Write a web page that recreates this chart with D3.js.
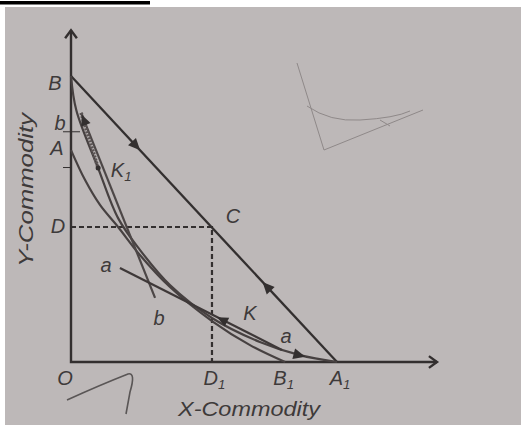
<!DOCTYPE html>
<html>
<head>
<meta charset="utf-8">
<script src="https://cdn.jsdelivr.net/npm/d3@7/dist/d3.min.js"></script>
<style>
  html, body { margin: 0; padding: 0; background: #fff; }
  svg { display: block; }
</style>
</head>
<body>
<svg id="chart" width="521" height="425"></svg>
<script>
// Axis extents (commodity units)
const xMax = 13.76;
const yMax = 11.6;

// Points on the axes
const yPoints = [
  { name: "B", y: 10.0 },
  { name: "b", y: 8.05 },
  { name: "A", y: 7.41 },
  { name: "D", y: 4.72 }
];
const xPoints = [
  { name: "D", sub: "1", x: 5.3 },
  { name: "B", sub: "1", x: 8.05 },
  { name: "A", sub: "1", x: 10.0 }
];

// Outer curve B → A1 (through K1 and K)
const outerX = [0, 0.2, 1.02, 1.77, 2.59, 3.72, 5.3, 7.1, 8.6, 10.0];
const outerY = [10.0, 8.8, 6.78, 5.03, 3.92, 2.69, 1.54, 0.70, 0.24, 0];

// Inner curve A → B1
const innerX = [0, 0.53, 1.09, 1.77, 2.59, 3.72, 5.3, 6.73, 8.05];
const innerY = [7.41, 6.36, 5.49, 4.72, 3.74, 2.62, 1.43, 0.59, 0];

// Straight line B → A1
const budgetX = [0, 10.0];
const budgetY = [10.0, 0];

// Tangent bb at K1 and aa at K
const bbX = [0.38, 3.16];
const bbY = [8.71, 2.24];
const aaX = [1.84, 7.93];
const aaY = [3.29, 0.42];

// Point C and the points K1, K
const C = { x: 5.3, y: 4.72 };
const K1 = { x: 1.02, y: 6.78 };
const K = { x: 5.3, y: 1.54 };

const svg = d3.select("#chart");
const W = 521, H = 425;

// Paper
svg.append("rect").attr("x", 5).attr("y", 7).attr("width", W - 5).attr("height", H - 7)
  .attr("fill", "#bdb8b8");
svg.append("rect").attr("x", 0).attr("y", 1).attr("width", 150).attr("height", 3.5)
  .attr("fill", "#000");

const x = d3.scaleLinear().domain([0, 10]).range([71, 337]);
const y = d3.scaleLinear().domain([0, 10]).range([362, 76]);

const ink = "#332f2f";
const textInk = "#3e3a3a";
const g = svg.append("g");

const line = d3.line().x(d => x(d[0])).y(d => y(d[1]));
const smooth = d3.line().x(d => x(d[0])).y(d => y(d[1])).curve(d3.curveCatmullRom.alpha(0.5));
const zip = (xs, ys) => xs.map((v, i) => [v, ys[i]]);

// Axes
g.append("path").attr("d", line([[0, yMax], [0, 0], [xMax, 0]]))
  .attr("fill", "none").attr("stroke", ink).attr("stroke-width", 2.4);
// open arrowheads
function chevron(px, py, angle) {
  const s = 10;
  const a1 = angle + Math.PI * 0.8, a2 = angle - Math.PI * 0.8;
  g.append("path")
    .attr("d", `M${px + s * Math.cos(a1)},${py + s * Math.sin(a1)} L${px},${py} L${px + s * Math.cos(a2)},${py + s * Math.sin(a2)}`)
    .attr("fill", "none").attr("stroke", ink).attr("stroke-width", 2.4);
}
chevron(x(0), y(yMax), -Math.PI / 2);
chevron(x(xMax), y(0), 0);

// Small marks on the Y axis
g.append("line").attr("x1", x(0) - 8).attr("x2", x(0) + 9)
  .attr("y1", y(8.05)).attr("y2", y(8.05)).attr("stroke", ink).attr("stroke-width", 1);
g.append("line").attr("x1", x(0) - 8).attr("x2", x(0))
  .attr("y1", y(6.8)).attr("y2", y(6.8)).attr("stroke", ink).attr("stroke-width", 1);

// Dashed guides D–C–D1
g.append("path").attr("d", line([[0, C.y], [C.x, C.y], [C.x, 0]]))
  .attr("fill", "none").attr("stroke", ink).attr("stroke-width", 2.2)
  .attr("stroke-dasharray", "5,3");

// Straight line B–A1
g.append("path").attr("d", line(zip(budgetX, budgetY)))
  .attr("fill", "none").attr("stroke", ink).attr("stroke-width", 2.3);

// Curves
g.append("path").attr("d", smooth(zip(innerX, innerY)))
  .attr("fill", "none").attr("stroke", "#474141").attr("stroke-width", 2.2);
g.append("path").attr("d", smooth(zip(outerX, outerY)))
  .attr("fill", "none").attr("stroke", "#474141").attr("stroke-width", 2.2);

// Tangent lines
g.append("path").attr("d", line(zip(bbX, bbY)))
  .attr("fill", "none").attr("stroke", "#4d4747").attr("stroke-width", 2.2);
g.append("path").attr("d", line([[bbX[0], bbY[0]], [K1.x, K1.y]]))
  .attr("fill", "none").attr("stroke", "#5a5353").attr("stroke-width", 3.6)
  .attr("stroke-dasharray", "2,1.2");
g.append("path").attr("d", line(zip(aaX, aaY)))
  .attr("fill", "none").attr("stroke", "#3e3838").attr("stroke-width", 2.2);

// Filled arrowheads along lines
function arrowAt(xa, ya, xb, yb, t, size) {
  const px = x(xa + (xb - xa) * t), py = y(ya + (yb - ya) * t);
  const ang = Math.atan2(y(yb) - y(ya), x(xb) - x(xa));
  const s = size || 12, w = s * 0.45;
  const bx = px - s * Math.cos(ang), by = py - s * Math.sin(ang);
  const nx = -Math.sin(ang) * w, ny = Math.cos(ang) * w;
  g.append("path")
    .attr("d", `M${px},${py} L${bx + nx},${by + ny} L${bx - nx},${by - ny} Z`)
    .attr("fill", ink);
}
arrowAt(budgetX[0], budgetY[0], budgetX[1], budgetY[1], 0.26);
arrowAt(budgetX[1], budgetY[1], budgetX[0], budgetY[0], 0.28);
arrowAt(bbX[1], bbY[1], bbX[0], bbY[0], 0.99, 11);
arrowAt(aaX[1], aaY[1], aaX[0], aaY[0], 0.4, 11);
arrowAt(8.0, 0.38, 8.9, 0.16, 0.9, 12);

// Point K1
g.append("circle").attr("cx", x(K1.x)).attr("cy", y(K1.y)).attr("r", 2.5).attr("fill", ink);

// Labels
const font = "'Liberation Sans', Arial, sans-serif";
function label(txt, sub, px, py, size) {
  const fs = size || 20;
  const t = g.append("text").attr("x", px).attr("y", py)
    .attr("font-family", font).attr("font-style", "italic")
    .attr("font-size", fs).attr("fill", textInk).attr("text-anchor", "middle");
  t.append("tspan").text(txt);
  if (sub) t.append("tspan").attr("font-size", fs * 0.66).attr("dy", 4).text(sub);
  return t;
}
label(yPoints[0].name, null, x(0) - 16, y(yPoints[0].y) + 14);
label(yPoints[1].name, null, x(0) - 11, y(yPoints[1].y) - 2);
label(yPoints[2].name, null, x(0) - 14, y(yPoints[2].y) + 5);
label(yPoints[3].name, null, x(0) - 13, y(yPoints[3].y) + 6);
const dx = [2.5, -1.5, 3];
xPoints.forEach((p, i) => label(p.name, p.sub, x(p.x) + dx[i], y(0) + 23));
label("O", null, x(0) - 6, y(0) + 23);
label("C", null, x(C.x) + 21, y(C.y) - 4);
label("K", "1", x(K1.x) + 23, y(K1.y) + 9);
label("K", null, x(K.x) + 38, y(K.y) + 2);
label("a", null, x(aaX[0]) - 14, y(aaY[0]) + 4);
label("a", null, x(aaX[1]) + 4, y(aaY[1]) - 7);
label("b", null, x(bbX[1]) + 4, y(bbY[1]) + 27);

// Axis titles
g.append("text").attr("x", 249).attr("y", 416)
  .attr("font-family", font).attr("font-style", "italic").attr("font-size", 21)
  .attr("textLength", 142).attr("lengthAdjust", "spacingAndGlyphs")
  .attr("fill", textInk).attr("text-anchor", "middle").text("X-Commodity");
g.append("text").attr("transform", "translate(33,190) rotate(-90)")
  .attr("font-family", font).attr("font-style", "italic").attr("font-size", 20)
  .attr("textLength", 154).attr("lengthAdjust", "spacingAndGlyphs")
  .attr("fill", textInk).attr("text-anchor", "middle").text("Y-Commodity");

// Pencil marks in the margin
const pencil = "#8f8989";
svg.append("path").attr("d", "M297,63 L324,150 L423,110")
  .attr("fill", "none").attr("stroke", pencil).attr("stroke-width", 1);
svg.append("path").attr("d", "M307,106 Q330,122 360,120 Q395,118 410,111")
  .attr("fill", "none").attr("stroke", pencil).attr("stroke-width", 1);
svg.append("path").attr("d", "M380,120 L390,126")
  .attr("fill", "none").attr("stroke", pencil).attr("stroke-width", 1);
svg.append("path").attr("d", "M67,400 Q100,385 128,374 Q136,372 130,392 L126,414")
  .attr("fill", "none").attr("stroke", "#5a5656").attr("stroke-width", 1.6);
</script>
</body>
</html>
